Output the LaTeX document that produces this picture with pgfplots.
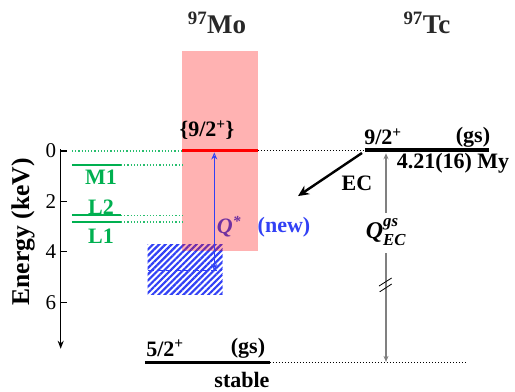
\documentclass[border=0pt]{standalone}
\usepackage{amsmath}
\usepackage{fontspec}
\setmainfont{Liberation Serif}
\usepackage{pgfplots}
\pgfplotsset{compat=1.18}
\usetikzlibrary{patterns.meta,arrows.meta}
\definecolor{mygreen}{RGB}{0,176,80}
\definecolor{mydot}{RGB}{40,190,110}
\definecolor{myblue}{RGB}{50,65,245}
\definecolor{mypurple}{RGB}{112,48,160}
\definecolor{titlegray}{RGB}{40,40,40}
\tikzset{lab/.style={font=\fontsize{22}{22}\selectfont\bfseries}}
\begin{document}
\begin{tikzpicture}
\begin{axis}[
  scale only axis, width=454.3pt, height=199.3pt,
  xmin=60.7, xmax=515, ymin=-0.06, ymax=7.85,
  y dir=reverse, clip=false,
  axis x line=none, axis y line=left,
  axis line style={line width=1.3pt, -{Stealth[length=8pt,width=6pt]}},
  ytick={0,2,4,6}, tick align=inside, major tick length=6pt,
  tick style={line width=1.3pt, black},
  yticklabel style={font=\fontsize{21}{21}\selectfont, xshift=-1pt},
  /pgf/number format/assume math mode=true,
]
% overall bounding box (515 x 389)
\path (axis cs:0,-5.992) rectangle (axis cs:515,9.444);
% hatched box
\addplot[draw=none, pattern={Lines[angle=45,distance=4.4pt,line width=2.2pt]}, pattern color=myblue]
  coordinates {(147.7,3.73) (222.7,3.73) (222.7,5.71) (147.7,5.71)};
% pink uncertainty box (translucent red)
\addplot[fill=red, fill opacity=0.3, draw=none] coordinates {(182,-3.97) (258,-3.97) (258,3.96) (182,3.96)};
\addplot[myblue, line width=1pt, dash pattern=on 6pt off 3pt] coordinates {(148,4.76) (222,4.76)};
% Q* arrow
\addplot[myblue, line width=0.9pt, {Stealth[length=7pt,width=6pt,open]}-{Stealth[length=7pt,width=6pt,open]}]
  coordinates {(214.3,0.06) (214.3,4.76)};
% 97Mo level (red)
\addplot[red, line width=3pt] coordinates {(182,0) (258,0)};
% dotted links at 0
\addplot[mydot, line width=1.2pt, dotted] coordinates {(72,0) (182,0)};
\addplot[black, line width=1pt, dotted] coordinates {(258,0) (365,0)};
% atomic shells
\addplot[mygreen, line width=2.2pt] coordinates {(72,0.56) (121,0.56)};
\addplot[mydot, line width=1.2pt, dotted] coordinates {(121,0.56) (184,0.56)};
\addplot[mygreen, line width=2.2pt] coordinates {(72,2.55) (121,2.55)};
\addplot[mydot, line width=1.2pt, dotted] coordinates {(121,2.55) (184,2.55)};
\addplot[mygreen, line width=2.2pt] coordinates {(72,2.82) (121,2.82)};
\addplot[mydot, line width=1.2pt, dotted] coordinates {(121,2.82) (184,2.82)};
% 97Tc ground state
\addplot[black, line width=3.2pt] coordinates {(365,-0.04) (489,-0.04)};
% 97Mo ground state
\addplot[black, line width=3.2pt] coordinates {(145,8.4) (270,8.4)};
\addplot[black, line width=1pt, dotted] coordinates {(270,8.4) (467,8.4)};
% EC arrow
\addplot[black, line width=2.4pt, -{Stealth[length=11pt,width=10pt]}] coordinates {(362,0.08) (298,1.79)};
% Q_EC arrow
\addplot[gray, line width=1.3pt, -{Stealth[length=6pt,width=5pt]}] coordinates {(386,2.45) (386,0.09)};
\addplot[gray, line width=1.3pt, -{Stealth[length=6pt,width=5pt]}] coordinates {(386,4.05) (386,8.37)};
\addplot[black, line width=0.8pt] coordinates {(379,5.36) (391.7,5.04)};
\addplot[black, line width=0.8pt] coordinates {(379.7,5.59) (391.7,5.28)};
% texts
\node[rotate=90, font=\fontsize{25.6}{25.6}\selectfont\bfseries] at (axis cs:23,3.21) {Energy (keV)};
\node[font=\fontsize{27}{27}\selectfont\bfseries, text=titlegray] at (axis cs:217,-5.08) {\textsuperscript{97}Mo};
\node[font=\fontsize{27}{27}\selectfont\bfseries, text=titlegray] at (axis cs:427,-5.08) {\textsuperscript{97}Tc};
\node[lab] at (axis cs:207,-0.83) {\{9/2\textsuperscript{+}\}};
\node[lab, text=mygreen] at (axis cs:101,1.03) {M1};
\node[lab, text=mygreen] at (axis cs:101,2.22) {L2};
\node[lab, text=mygreen] at (axis cs:101,3.37) {L1};
\node[lab, text=mypurple] at (axis cs:229,3.0) {\itshape Q\textsuperscript{*}};
\node[lab, text=myblue] at (axis cs:284,3.02) {(new)};
\node[lab] at (axis cs:383,-0.56) {9/2\textsuperscript{+}};
\node[lab] at (axis cs:473,-0.56) {(gs)};
\node[lab] at (axis cs:453,0.48) {4.21(16) My};
\node[lab] at (axis cs:357,1.27) {EC};
\node[font=\fontsize{24}{24}\selectfont\bfseries] at (axis cs:386,3.21) {\itshape Q$^{\text{\bfseries\itshape gs}}_{\text{\bfseries\itshape EC}}$};
\node[lab] at (axis cs:165,7.82) {5/2\textsuperscript{+}};
\node[lab] at (axis cs:248,7.82) {(gs)};
\node[lab] at (axis cs:242,9.09) {stable};
\end{axis}
\end{tikzpicture}
\end{document}
